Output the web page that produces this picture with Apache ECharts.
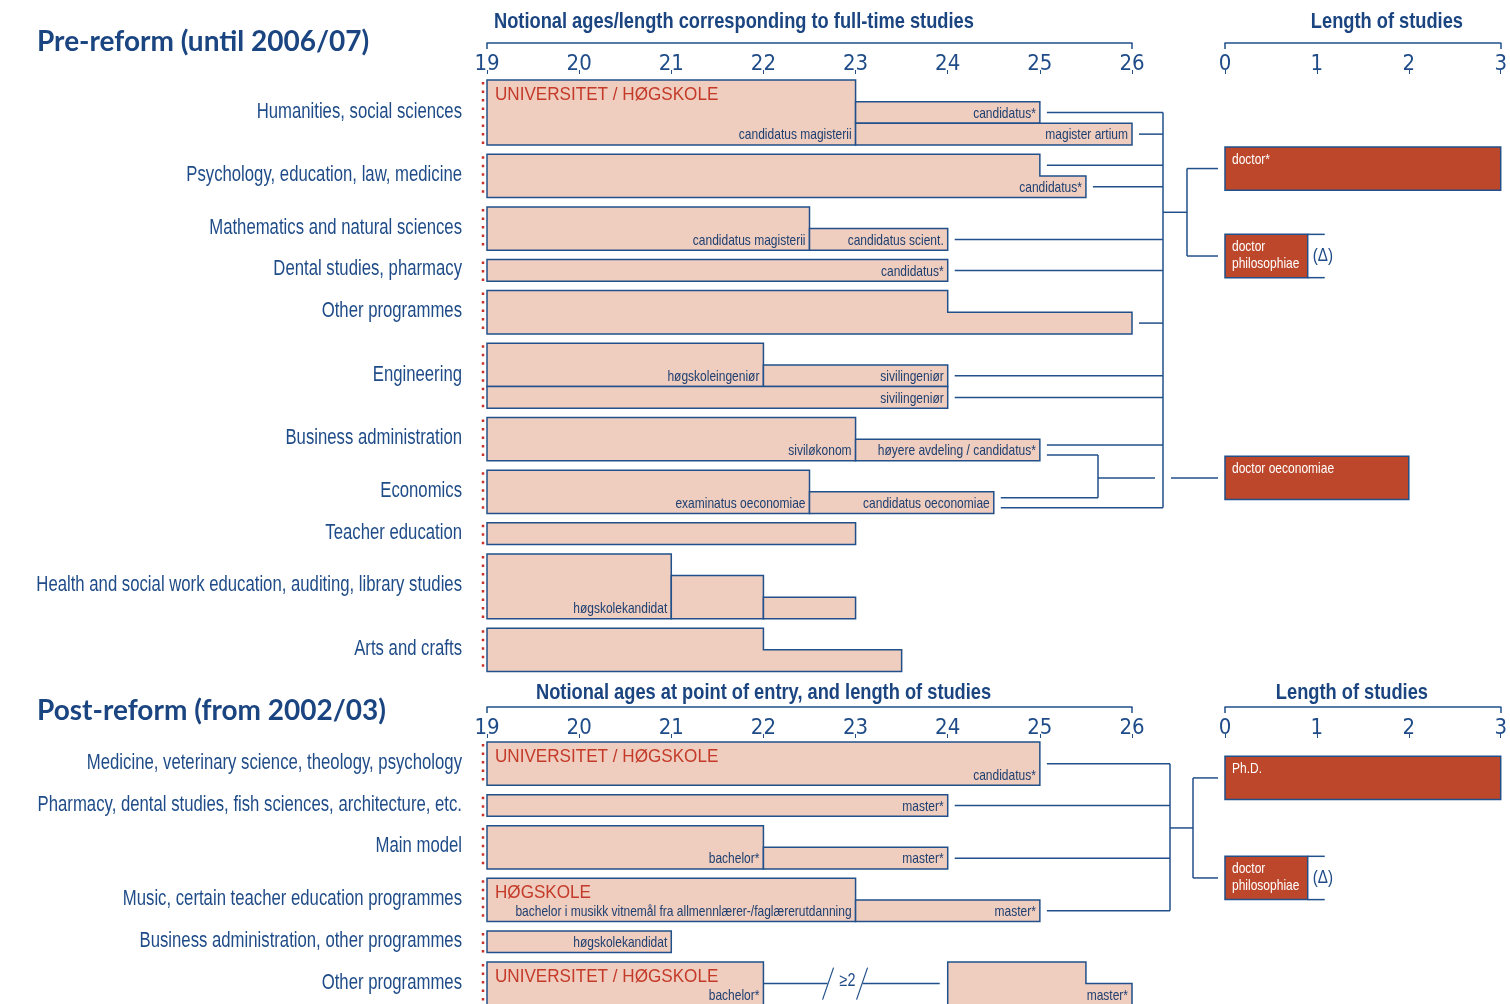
<!DOCTYPE html>
<html>
<head>
<meta charset="utf-8">
<title>Degree structure before and after the reform</title>
<script src="https://cdn.jsdelivr.net/npm/echarts@6.0.0/dist/echarts.min.js"></script>
<style>
  html, body { margin: 0; padding: 0; background: #fff; }
  #main { width: 1510px; height: 1004px; }
</style>
</head>
<body>
<div id="main"></div>
<script>
// ---------- data ----------
var ageTicks = [19, 20, 21, 22, 23, 24, 25, 26];
var lengthTicks = [0, 1, 2, 3];

var preRows = ['Humanities, social sciences', 'Psychology, education, law, medicine',
  'Mathematics and natural sciences', 'Dental studies, pharmacy', 'Other programmes',
  'Engineering', 'Business administration', 'Economics', 'Teacher education',
  'Health and social work education, auditing, library studies', 'Arts and crafts'];
var preRowLanes = [3, 2, 2, 1, 2, 3, 2, 2, 1, 3, 2];

// [row, steps [[age, top lane]...], end age, bottom lane, degree, institution]
var preShapes = [
  [0, [[19, 0]], 23, 3, 'candidatus magisterii', 'UNIVERSITET / HØGSKOLE'],
  [0, [[23, 1]], 25, 2, 'candidatus*', ''],
  [0, [[23, 2]], 26, 3, 'magister artium', ''],
  [1, [[19, 0], [25, 1]], 25.5, 2, 'candidatus*', ''],
  [2, [[19, 0]], 22.5, 2, 'candidatus magisterii', ''],
  [2, [[22.5, 1]], 24, 2, 'candidatus scient.', ''],
  [3, [[19, 0]], 24, 1, 'candidatus*', ''],
  [4, [[19, 0], [24, 1]], 26, 2, '', ''],
  [5, [[19, 0]], 22, 2, 'høgskoleingeniør', ''],
  [5, [[22, 1]], 24, 2, 'sivilingeniør', ''],
  [5, [[19, 2]], 24, 3, 'sivilingeniør', ''],
  [6, [[19, 0]], 23, 2, 'siviløkonom', ''],
  [6, [[23, 1]], 25, 2, 'høyere avdeling / candidatus*', ''],
  [7, [[19, 0]], 22.5, 2, 'examinatus oeconomiae', ''],
  [7, [[22.5, 1]], 24.5, 2, 'candidatus oeconomiae', ''],
  [8, [[19, 0]], 23, 1, '', ''],
  [9, [[19, 0]], 21, 3, 'høgskolekandidat', ''],
  [9, [[21, 1]], 22, 3, '', ''],
  [9, [[22, 2]], 23, 3, '', ''],
  [10, [[19, 0], [22, 1]], 23.5, 2, '', '']
];

var postRows = ['Medicine, veterinary science, theology, psychology',
  'Pharmacy, dental studies, fish sciences, architecture, etc.', 'Main model',
  'Music, certain teacher education programmes', 'Business administration, other programmes',
  'Other programmes'];
var postRowLanes = [2, 1, 2, 2, 1, 2];

var postShapes = [
  [0, [[19, 0]], 25, 2, 'candidatus*', 'UNIVERSITET / HØGSKOLE'],
  [1, [[19, 0]], 24, 1, 'master*', ''],
  [2, [[19, 0]], 22, 2, 'bachelor*', ''],
  [2, [[22, 1]], 24, 2, 'master*', ''],
  [3, [[19, 0]], 23, 2, 'bachelor i musikk vitnemål fra allmennlærer-/faglærerutdanning', 'HØGSKOLE'],
  [3, [[23, 1]], 25, 2, 'master*', ''],
  [4, [[19, 0]], 21, 1, 'høgskolekandidat', ''],
  [5, [[19, 0]], 22, 2, 'bachelor*', 'UNIVERSITET / HØGSKOLE'],
  [5, [[24, 0], [25.5, 1]], 26, 2, 'master*', '']
];
var postGap = [5, 22, 24, '≥2'];   // row, from age, to age, text

// doctorates: [name, length in years, delta mark]
var preDoctorates = [['doctor*', 3, false], ['doctor\nphilosophiae', 0.9, true], ['doctor oeconomiae', 2, false]];
var postDoctorates = [['Ph.D.', 3, false], ['doctor\nphilosophiae', 0.9, true]];

// connections from degree ends: [row, lane position, age]
var preTrunkLinks = [[0, 1.5, 25], [0, 2.5, 26], [1, 0.5, 25], [1, 1.5, 25.5], [2, 1.5, 24],
  [3, 0.5, 24], [4, 1.5, 26], [5, 1.5, 24], [5, 2.5, 24], [6, 1.27, 25], [7, 1.73, 24.5]];
var preEconLinks = [[6, 1.73, 25], [7, 1.27, 24.5]];
var postTrunkLinks = [[0, 1, 25], [1, 0.5, 24], [2, 1.5, 24], [3, 1.5, 25]];

// ---------- layout ----------
var LANE_PX = 21.65;
var ROW_GAP = 0.432;
var MAIN_LEFT = 487, MAIN_W = 645, RIGHT_LEFT = 1225, RIGHT_W = 276;
var preDoctorY = [4.09, 8.13, 18.38];
var postDoctorY = [1.66, 6.28];

var LINE = '#21508a', TEXT = '#1f4c88', DARK = '#1e3f70', TITLE = '#1b4580';
var RED = '#c43a29', PEACH = '#efcdbf', RUST = '#bd472b', DOTS = '#c8302a';
var CONDENSED = "'DejaVu Sans Condensed', sans-serif";
var SANS = "'Liberation Sans', Arial, sans-serif";
var NARROW_X = 0.8;   // horizontal squeeze to imitate a condensed face

function rowTops(lanes) {
  var tops = [], t = 0;
  lanes.forEach(function (n) { tops.push(t); t += n + ROW_GAP; });
  return tops;
}
var preTops = rowTops(preRowLanes);
var postTops = rowTops(postRowLanes);

var panels = [
  { top: 43, height: 637, first: 80 },
  { top: 707, height: 297, first: 742 }
];
function yRange(p) {
  var min = -(p.first - p.top) / LANE_PX;
  return { min: min, max: min + p.height / LANE_PX };
}

function seg(x1, y1, x2, y2, extra) {
  var style = { stroke: LINE, lineWidth: 1.5 };
  if (extra) for (var k in extra) style[k] = extra[k];
  return { type: 'line', shape: { x1: x1, y1: y1, x2: x2, y2: y2 }, style: style };
}

// narrow text: a sans face squeezed horizontally around its anchor
function narrowText(text, x, y, size, align, fill, vAlign, extra, sx) {
  var style = { text: text, align: align, verticalAlign: vAlign || 'middle', fill: fill,
    fontSize: size, fontFamily: SANS };
  if (extra) for (var k in extra) style[k] = extra[k];
  return { type: 'text', x: x, y: y, scaleX: sx || NARROW_X, silent: true, style: style };
}

function makeXAxes(gridIndex, min, max) {
  return [{
    gridIndex: gridIndex, type: 'value', min: min, max: max, interval: 1, position: 'top',
    axisLine: { show: true, onZero: false, lineStyle: { color: LINE, width: 1.5 } },
    axisTick: { show: true, inside: true, length: 6, customValues: [min, max], lineStyle: { color: LINE, width: 1.5 } },
    axisLabel: { inside: true, margin: 10, fontSize: 22, fontFamily: CONDENSED, color: TEXT },
    splitLine: { show: false }
  }, {
    gridIndex: gridIndex, type: 'value', min: min, max: max, interval: 1, position: 'top', offset: -31,
    axisLine: { show: false, onZero: false },
    axisTick: { show: true, inside: false, length: 4, lineStyle: { color: LINE, width: 1 } },
    axisLabel: { show: false },
    splitLine: { show: false }
  }];
}

function makeYAxis(gridIndex, p) {
  var r = yRange(p);
  return { gridIndex: gridIndex, type: 'value', inverse: true, show: false, min: r.min, max: r.max, splitLine: { show: false } };
}

function rowLabelSeries(names, lanes, tops, xi, yi) {
  return {
    type: 'custom', xAxisIndex: xi, yAxisIndex: yi, silent: true, clip: false,
    data: names.map(function (n, i) { return [19, tops[i]]; }),
    renderItem: function (params, api) {
      var i = params.dataIndex;
      var a = api.coord([19, tops[i]]);
      var b = api.coord([19, tops[i] + lanes[i]]);
      return {
        type: 'group', children: [
          seg(a[0] - 4, a[1] + 2, a[0] - 4, b[1], { stroke: DOTS, lineWidth: 2.5, lineDash: [2.5, 6] }),
          narrowText(names[i], a[0] - 25, (a[1] + b[1]) / 2 - 1, 22, 'right', TEXT, 'middle', null, 0.76)
        ]
      };
    }
  };
}

function shapeSeries(shapes, tops, xi, yi) {
  return {
    type: 'custom', xAxisIndex: xi, yAxisIndex: yi, silent: true, clip: false,
    data: shapes.map(function (s) { return [s[1][0][0], s[2], tops[s[0]]]; }),
    renderItem: function (params, api) {
      var s = shapes[params.dataIndex], t = tops[s[0]], steps = s[1];
      var pts = [api.coord([steps[0][0], t + steps[0][1]])];
      for (var k = 1; k < steps.length; k++) {
        pts.push(api.coord([steps[k][0], t + steps[k - 1][1]]));
        pts.push(api.coord([steps[k][0], t + steps[k][1]]));
      }
      pts.push(api.coord([s[2], t + steps[steps.length - 1][1]]));
      pts.push(api.coord([s[2], t + s[3]]));
      pts.push(api.coord([steps[0][0], t + s[3]]));
      var children = [{ type: 'polygon', shape: { points: pts }, style: { fill: PEACH, stroke: LINE, lineWidth: 1.5 } }];
      if (s[4]) {
        var lab = api.coord([s[2], t + s[3] - 0.5]);
        children.push(narrowText(s[4], lab[0] - 4, lab[1] + 1, 15, 'right', DARK));
      }
      if (s[5]) {
        children.push({ type: 'text', x: pts[0][0] + 8, y: pts[0][1] + 15, scaleX: 0.95,
          style: { text: s[5], align: 'left', verticalAlign: 'middle', fill: RED, fontSize: 18, fontFamily: SANS } });
      }
      return { type: 'group', children: children };
    }
  };
}

function doctorSeries(docs, ys, xi, yi) {
  return {
    type: 'custom', xAxisIndex: xi, yAxisIndex: yi, silent: true, clip: false,
    data: docs.map(function (d, i) { return [d[1], ys[i]]; }),
    renderItem: function (params, api) {
      var d = docs[params.dataIndex], y = ys[params.dataIndex];
      var a = api.coord([0, y - 1]), b = api.coord([d[1], y + 1]);
      var children = [
        { type: 'rect', shape: { x: a[0], y: a[1], width: b[0] - a[0], height: b[1] - a[1] },
          style: { fill: RUST, stroke: LINE, lineWidth: 1.5 } },
        narrowText(d[0], a[0] + 7, a[1] + 4, 15, 'left', '#fff', 'top', { lineHeight: 17 })
      ];
      if (d[2]) {
        children.push(seg(b[0], a[1], b[0] + 17, a[1]));
        children.push(seg(b[0], b[1], b[0] + 17, b[1]));
        children.push(narrowText('(Δ)', b[0] + 5, (a[1] + b[1]) / 2, 19, 'left', TEXT));
      }
      return { type: 'group', children: children };
    }
  };
}

function linkStart(api, tops, l) {
  var p = api.coord([l[2], tops[l[0]] + l[1]]);
  return [p[0] + 7, p[1]];
}

var preLinkSeries = {
  type: 'custom', xAxisIndex: 0, yAxisIndex: 0, silent: true, clip: false, z: 1,
  data: [[19, 0]],
  renderItem: function (params, api) {
    var end = api.coord([26, 0])[0];
    var trunkX = end + 31, forkX = end + 55, econX = end - 34, barX = RIGHT_LEFT - 7;
    var out = [], ys = [];
    preTrunkLinks.forEach(function (l) {
      var p = linkStart(api, preTops, l);
      out.push(seg(p[0], p[1], trunkX, p[1]));
      ys.push(p[1]);
    });
    out.push(seg(trunkX, Math.min.apply(null, ys), trunkX, Math.max.apply(null, ys)));
    var y0 = api.coord([26, preDoctorY[0]])[1], y1 = api.coord([26, preDoctorY[1]])[1];
    out.push(seg(trunkX, (y0 + y1) / 2, forkX, (y0 + y1) / 2));
    out.push(seg(forkX, y0, forkX, y1));
    out.push(seg(forkX, y0, barX, y0));
    out.push(seg(forkX, y1, barX, y1));
    var ey = [];
    preEconLinks.forEach(function (l) {
      var p = linkStart(api, preTops, l);
      out.push(seg(p[0], p[1], econX, p[1]));
      ey.push(p[1]);
    });
    out.push(seg(econX, Math.min.apply(null, ey), econX, Math.max.apply(null, ey)));
    var yo = api.coord([26, preDoctorY[2]])[1];
    out.push(seg(econX, yo, trunkX - 8, yo));
    out.push(seg(trunkX + 8, yo, barX, yo));
    return { type: 'group', children: out };
  }
};

var postLinkSeries = {
  type: 'custom', xAxisIndex: 4, yAxisIndex: 2, silent: true, clip: false, z: 1,
  data: [[19, 0]],
  renderItem: function (params, api) {
    var end = api.coord([26, 0])[0];
    var trunkX = end + 38, forkX = end + 61, barX = RIGHT_LEFT - 7;
    var out = [], ys = [];
    postTrunkLinks.forEach(function (l) {
      var p = linkStart(api, postTops, l);
      out.push(seg(p[0], p[1], trunkX, p[1]));
      ys.push(p[1]);
    });
    out.push(seg(trunkX, Math.min.apply(null, ys), trunkX, Math.max.apply(null, ys)));
    var y0 = api.coord([26, postDoctorY[0]])[1], y1 = api.coord([26, postDoctorY[1]])[1];
    out.push(seg(trunkX, (y0 + y1) / 2, forkX, (y0 + y1) / 2));
    out.push(seg(forkX, y0, forkX, y1));
    out.push(seg(forkX, y0, barX, y0));
    out.push(seg(forkX, y1, barX, y1));
    // gap between bachelor and master
    var a = api.coord([postGap[1], postTops[postGap[0]] + 1]);
    var b = api.coord([postGap[2], postTops[postGap[0]] + 1]);
    var mid = (a[0] + b[0]) / 2, y = a[1];
    out.push(seg(a[0], y, mid - 28, y));
    out.push(seg(mid - 33, y + 16, mid - 22, y - 16, { lineWidth: 1.2 }));
    out.push(seg(mid + 1, y + 16, mid + 12, y - 16, { lineWidth: 1.2 }));
    out.push(seg(mid + 7, y, b[0] - 8, y));
    out.push(narrowText(postGap[3], mid - 16, y - 3, 18, 'left', TEXT));
    return { type: 'group', children: out };
  }
};

var chart = echarts.init(document.getElementById('main'));

function titleText(text, x, y, size, align, font, sx) {
  return { type: 'text', x: x, y: y, scaleX: sx, silent: true,
    style: { text: text, fill: TITLE, fontSize: size, fontFamily: font, fontWeight: 'bold',
      align: align, verticalAlign: 'middle' } };
}

var option = {
  backgroundColor: '#fff',
  animation: false,
  grid: [
    { left: MAIN_LEFT, width: MAIN_W, top: panels[0].top, height: panels[0].height },
    { left: RIGHT_LEFT, width: RIGHT_W, top: panels[0].top, height: panels[0].height },
    { left: MAIN_LEFT, width: MAIN_W, top: panels[1].top, height: panels[1].height },
    { left: RIGHT_LEFT, width: RIGHT_W, top: panels[1].top, height: panels[1].height }
  ],
  xAxis: [].concat(
    makeXAxes(0, ageTicks[0], ageTicks[ageTicks.length - 1]),
    makeXAxes(1, lengthTicks[0], lengthTicks[lengthTicks.length - 1]),
    makeXAxes(2, ageTicks[0], ageTicks[ageTicks.length - 1]),
    makeXAxes(3, lengthTicks[0], lengthTicks[lengthTicks.length - 1])
  ),
  yAxis: [makeYAxis(0, panels[0]), makeYAxis(1, panels[0]), makeYAxis(2, panels[1]), makeYAxis(3, panels[1])],
  graphic: [
    titleText('Pre-reform (until 2006/07)', 37, 42, 28, 'left', 'Lato', 1),
    titleText('Post-reform (from 2002/03)', 37, 711, 28, 'left', 'Lato', 1),
    titleText('Notional ages/length corresponding to full-time studies', 494, 22, 22, 'left', SANS, 0.83),
    titleText('Length of studies', 1463, 22, 22, 'right', SANS, 0.83),
    titleText('Notional ages at point of entry, and length of studies', 536, 693, 22, 'left', SANS, 0.83),
    titleText('Length of studies', 1428, 693, 22, 'right', SANS, 0.83)
  ],
  series: [
    preLinkSeries,
    postLinkSeries,
    shapeSeries(preShapes, preTops, 0, 0),
    shapeSeries(postShapes, postTops, 4, 2),
    rowLabelSeries(preRows, preRowLanes, preTops, 0, 0),
    rowLabelSeries(postRows, postRowLanes, postTops, 4, 2),
    doctorSeries(preDoctorates, preDoctorY, 2, 1),
    doctorSeries(postDoctorates, postDoctorY, 6, 3)
  ]
};

chart.setOption(option);
</script>
</body>
</html>
